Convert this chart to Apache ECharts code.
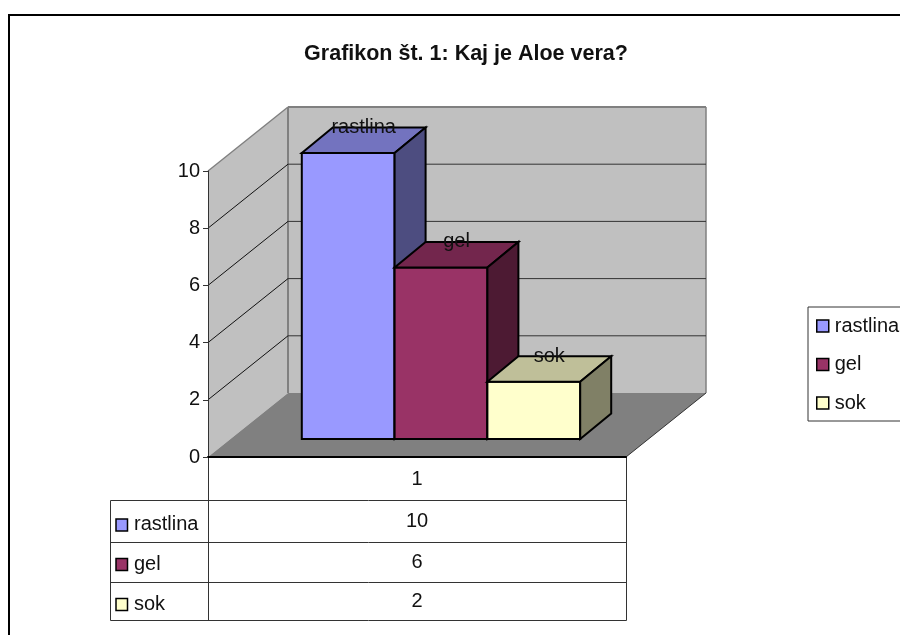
<!DOCTYPE html>
<html>
<head>
<meta charset="utf-8">
<style>
  html, body { margin: 0; padding: 0; background: #fff; overflow: hidden; }
  #chart { width: 900px; height: 635px; }
</style>
<script src="https://cdn.jsdelivr.net/npm/echarts@6/dist/echarts.min.js"></script>
</head>
<body>
<div id="chart"></div>
<script>
const categories = ['1'];
const seriesNames = ['rastlina', 'gel', 'sok'];
const rastlina = [10];
const gel = [6];
const sok = [2];
const yTicks = [0, 2, 4, 6, 8, 10];

const seriesValues = [rastlina, gel, sok];
const faceColors = [
  { front: '#9999ff', top: '#7373bf', side: '#4d4d80' },
  { front: '#993366', top: '#73264d', side: '#4d1a33' },
  { front: '#ffffcc', top: '#bfbf99', side: '#808066' }
];

const FontName = '"Liberation Sans", Arial, sans-serif';
const TextColor = '#111';
// wall depth, and where the bars sit inside it
const wallDX = 80, wallDY = 64;
const barWidth = 92.8, barDX = 31, barDY = 25.5, barLift = 18, barShift = 24;

const myChart = echarts.init(document.getElementById('chart'));

function poly(points, fill, stroke, lineWidth) {
  return {
    type: 'polygon',
    shape: { points },
    style: { fill, stroke: stroke || 'none', lineWidth: lineWidth || 0, lineJoin: 'miter' }
  };
}

function line(x1, y1, x2, y2, stroke, lineWidth) {
  return {
    type: 'line',
    shape: { x1, y1, x2, y2 },
    style: { stroke, lineWidth: lineWidth || 1 }
  };
}

function renderWalls(params) {
  const g = params.coordSys;
  const l = g.x, r = g.x + g.width, t = g.y, b = g.y + g.height;
  const edge = '#808080';
  return {
    type: 'group',
    children: [
      poly([[l, t], [l + wallDX, t - wallDY], [l + wallDX, b - wallDY], [l, b]], '#c0c0c0'),
      poly([[l + wallDX, t - wallDY], [r + wallDX, t - wallDY], [r + wallDX, b - wallDY], [l + wallDX, b - wallDY]], '#c0c0c0'),
      poly([[l, b], [r, b], [r + wallDX, b - wallDY], [l + wallDX, b - wallDY]], '#808080'),
      line(l, t, l + wallDX, t - wallDY, edge, 1.5),
      line(l + wallDX, t - wallDY, l + wallDX, b - wallDY, edge, 2),
      line(l + wallDX, t - wallDY, r + wallDX, t - wallDY, edge, 2),
      line(r + wallDX, t - wallDY, r + wallDX, b - wallDY, edge, 1.5),
      line(r, b, r + wallDX, b - wallDY, '#333', 1)
    ]
  };
}

function renderGridLine(params, api) {
  const g = params.coordSys;
  const v = api.value(0);
  const y = api.coord([categories[0], v])[1];
  if (v === 0 || v === yTicks[yTicks.length - 1]) {
    return { type: 'group', children: [] };
  }
  return {
    type: 'group',
    children: [
      line(g.x, y, g.x + wallDX, y - wallDY, '#111', 1),
      line(g.x + wallDX, y - wallDY, g.x + g.width + wallDX, y - wallDY, '#333', 1)
    ]
  };
}

function barRenderer(index) {
  return function (params, api) {
    const v = api.value(1);
    const base = api.coord([categories[api.value(0)], 0]);
    const tip = api.coord([categories[api.value(0)], v]);
    const x0 = base[0] + barShift - barWidth * seriesNames.length / 2 + barWidth * index;
    const x1 = x0 + barWidth;
    const yb = base[1] - barLift;
    const yt = tip[1] - barLift;
    const c = faceColors[index];
    const k = '#000';
    return {
      type: 'group',
      children: [
        poly([[x0, yb], [x1, yb], [x1, yt], [x0, yt]], c.front, k, 2),
        poly([[x0, yt], [x1, yt], [x1 + barDX, yt - barDY], [x0 + barDX, yt - barDY]], c.top, k, 2),
        poly([[x1, yb], [x1 + barDX, yb - barDY], [x1 + barDX, yt - barDY], [x1, yt]], c.side, k, 2),
        {
          type: 'text',
          z2: 50,
          style: {
            text: seriesNames[index],
            x: (x0 + x1 + barDX) / 2,
            y: yt - barDY,
            align: 'center',
            verticalAlign: 'middle',
            fill: TextColor,
            font: '20px ' + FontName
          }
        }
      ]
    };
  };
}

// data table and chart frame below the plot
const tableX = 110.5, plotL = 208, plotR = 626, tableTop = 500.5;
const rowLines = [542.5, 582.5, 620.5];
const rowLabelY = [524, 564, 604];
const rowSwatchY = [525, 564.5, 604.5];
const rowValueY = [521, 562, 601];

function tableGraphics() {
  const els = [];
  const stroke = { stroke: '#333', lineWidth: 1 };
  els.push({ type: 'rect', silent: true, shape: { x: 9, y: 15, width: 1000, height: 1000 },
    style: { fill: 'none', stroke: '#000', lineWidth: 2 } });
  [tableTop].concat(rowLines).forEach(y => {
    els.push({ type: 'line', shape: { x1: tableX, y1: y, x2: plotR + 0.5, y2: y }, style: stroke });
  });
  els.push({ type: 'line', shape: { x1: tableX, y1: tableTop, x2: tableX, y2: rowLines[2] }, style: stroke });
  [plotL + 0.5, plotR + 0.5].forEach(x => {
    els.push({ type: 'line', shape: { x1: x, y1: 457, x2: x, y2: rowLines[2] }, style: stroke });
  });
  seriesNames.forEach((name, i) => {
    els.push({ type: 'rect', shape: { x: 116, y: rowSwatchY[i] - 6, width: 11.5, height: 12 },
      style: { fill: faceColors[i].front, stroke: '#000', lineWidth: 1.5 } });
    els.push({ type: 'text', style: { text: name, x: 134, y: rowLabelY[i], verticalAlign: 'middle',
      fill: TextColor, font: '20px ' + FontName } });
    els.push({ type: 'text', style: { text: String(seriesValues[i][0]), x: (plotL + plotR) / 2, y: rowValueY[i],
      align: 'center', verticalAlign: 'middle', fill: TextColor, font: '20px ' + FontName } });
  });
  return els;
}

const series = [
  { name: 'walls', type: 'custom', z: 1, silent: true, renderItem: renderWalls, data: [[0]], encode: { y: 0 } },
  { name: 'grid', type: 'custom', z: 1.5, silent: true, renderItem: renderGridLine, data: yTicks.map(v => [v]), encode: { y: 0 } }
].concat(seriesNames.map((name, i) => ({
  name,
  type: 'custom',
  z: 2 + i,
  silent: true,
  itemStyle: { color: faceColors[i].front },
  renderItem: barRenderer(i),
  encode: { x: 0, y: 1 },
  data: seriesValues[i].map((v, c) => [c, v])
})));

const option = {
  animation: false,
  backgroundColor: '#fff',
  textStyle: { fontFamily: FontName },
  title: {
    text: 'Grafikon št. 1: Kaj je Aloe vera?',
    left: 461,
    top: 38,
    textAlign: 'center',
    textStyle: { fontFamily: FontName, fontSize: 21.5, fontWeight: 'bold', color: '#111' }
  },
  legend: {
    data: seriesNames,
    orient: 'vertical',
    left: 808,
    top: 307,
    padding: [9, 20, 8, 8],
    itemWidth: 12,
    itemHeight: 12,
    itemGap: 18.5,
    icon: 'rect',
    selectedMode: false,
    borderColor: '#333',
    borderWidth: 1,
    itemStyle: { borderColor: '#000', borderWidth: 1.5 },
    textStyle: { fontFamily: FontName, fontSize: 20, color: TextColor, padding: [0, 0, 0, 1] }
  },
  grid: { left: 208, top: 171, width: 418, height: 286 },
  xAxis: {
    type: 'category',
    data: categories,
    z: 6,
    axisLine: { lineStyle: { color: '#000', width: 2 } },
    axisTick: { show: false },
    axisLabel: { fontFamily: FontName, fontSize: 20, color: TextColor, margin: 12 }
  },
  yAxis: {
    type: 'value',
    min: 0,
    max: 10,
    interval: 2,
    z: 6,
    axisLine: { show: true, lineStyle: { color: '#333', width: 1 } },
    axisTick: { show: true, length: 5, lineStyle: { color: '#333' } },
    axisLabel: { fontFamily: FontName, fontSize: 20, color: TextColor, margin: 8 },
    splitLine: { show: false }
  },
  graphic: { elements: tableGraphics() },
  series
};

myChart.setOption(option);
</script>
</body>
</html>
